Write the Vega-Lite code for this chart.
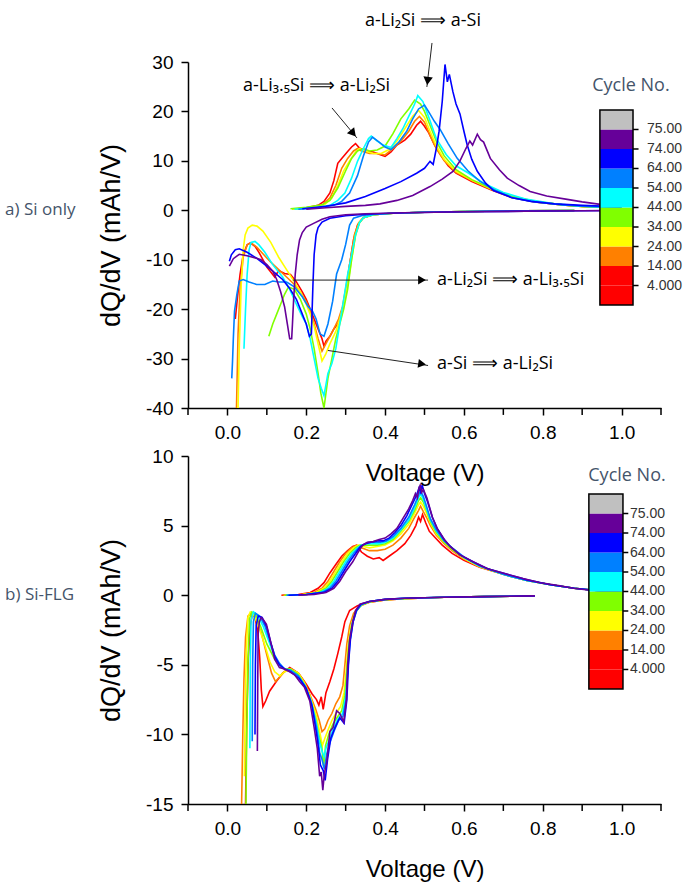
{
"$schema":"https://vega.github.io/schema/vega-lite/v6.json",
"background":"white",
"padding":{"left":5,"top":11,"right":2,"bottom":2},
"config":{"view":{"stroke":null},
 "axis":{"grid":false,"domainColor":"#000","domainWidth":1.5,"tickColor":"#000","tickWidth":1.5,"tickSize":7,"labelFont":"Liberation Sans","labelFontSize":19,"labelColor":"#000","labelPadding":8,"labelFlush":false,"labelOverlap":false,"titleFont":"Liberation Sans","titleFontWeight":"normal","titleColor":"#000"}},
"bounds":"flush",
"spacing":48,
"resolve":{"scale":{"x":"independent","y":"independent"}},
"datasets":{
"T":[{"t":-0.1},{"t":0.1},{"t":0.3},{"t":0.5},{"t":0.7},{"t":0.9},{"t":1.1}],
"L":[{"r":0,"r2":1,"c":"4","l":""},{"r":1,"r2":2,"c":"4","l":"4.000"},{"r":2,"r2":3,"c":"14","l":"14.00"},{"r":3,"r2":4,"c":"24","l":"24.00"},{"r":4,"r2":5,"c":"34","l":"34.00"},{"r":5,"r2":6,"c":"44","l":"44.00"},{"r":6,"r2":7,"c":"54","l":"54.00"},{"r":7,"r2":8,"c":"64","l":"64.00"},{"r":8,"r2":9,"c":"74","l":"74.00"},{"r":9,"r2":10,"c":"75","l":"75.00"}],
"A":[
{"c":"4","b":"d","v":0.88,"q":-0.05},{"c":"4","b":"d","v":0.75,"q":-0.12},{"c":"4","b":"d","v":0.6,"q":-0.25},{"c":"4","b":"d","v":0.5,"q":-0.4},{"c":"4","b":"d","v":0.42,"q":-0.6},{"c":"4","b":"d","v":0.37,"q":-0.9},{"c":"4","b":"d","v":0.345,"q":-1.5},{"c":"4","b":"d","v":0.33,"q":-3},{"c":"4","b":"d","v":0.32,"q":-6},{"c":"4","b":"d","v":0.31,"q":-11},{"c":"4","b":"d","v":0.3,"q":-17},{"c":"4","b":"d","v":0.29,"q":-21},{"c":"4","b":"d","v":0.28,"q":-23},{"c":"4","b":"d","v":0.27,"q":-24},{"c":"4","b":"d","v":0.26,"q":-25.5},{"c":"4","b":"d","v":0.25,"q":-26.5},{"c":"4","b":"d","v":0.245,"q":-27.5},{"c":"4","b":"d","v":0.24,"q":-26},{"c":"4","b":"d","v":0.23,"q":-24},{"c":"4","b":"d","v":0.22,"q":-22},{"c":"4","b":"d","v":0.21,"q":-20},{"c":"4","b":"d","v":0.2,"q":-18},{"c":"4","b":"d","v":0.19,"q":-16.5},{"c":"4","b":"d","v":0.175,"q":-14.5},{"c":"4","b":"d","v":0.16,"q":-13},{"c":"4","b":"d","v":0.145,"q":-12.8},{"c":"4","b":"d","v":0.13,"q":-12.2},{"c":"4","b":"d","v":0.12,"q":-13.5},{"c":"4","b":"d","v":0.11,"q":-12.5},{"c":"4","b":"d","v":0.1,"q":-11.5},{"c":"4","b":"d","v":0.09,"q":-10},{"c":"4","b":"d","v":0.08,"q":-8.5},{"c":"4","b":"d","v":0.07,"q":-7.3},{"c":"4","b":"d","v":0.058,"q":-6.6},{"c":"4","b":"d","v":0.05,"q":-7},{"c":"4","b":"d","v":0.04,"q":-9},{"c":"4","b":"d","v":0.032,"q":-13},{"c":"4","b":"d","v":0.025,"q":-18},{"c":"4","b":"d","v":0.02,"q":-22},
{"c":"4","b":"c","v":0.165,"q":0.2},{"c":"4","b":"c","v":0.2,"q":0.5},{"c":"4","b":"c","v":0.23,"q":1},{"c":"4","b":"c","v":0.245,"q":1.8},{"c":"4","b":"c","v":0.26,"q":3.5},{"c":"4","b":"c","v":0.27,"q":6},{"c":"4","b":"c","v":0.28,"q":9.5},{"c":"4","b":"c","v":0.29,"q":10.5},{"c":"4","b":"c","v":0.305,"q":11.9},{"c":"4","b":"c","v":0.315,"q":12.8},{"c":"4","b":"c","v":0.325,"q":13.5},{"c":"4","b":"c","v":0.335,"q":12.6},{"c":"4","b":"c","v":0.35,"q":12},{"c":"4","b":"c","v":0.37,"q":11.8},{"c":"4","b":"c","v":0.39,"q":11.2},{"c":"4","b":"c","v":0.4,"q":10.9},{"c":"4","b":"c","v":0.415,"q":11.8},{"c":"4","b":"c","v":0.43,"q":13.2},{"c":"4","b":"c","v":0.45,"q":14.2},{"c":"4","b":"c","v":0.465,"q":15.4},{"c":"4","b":"c","v":0.48,"q":17.2},{"c":"4","b":"c","v":0.49,"q":18},{"c":"4","b":"c","v":0.5,"q":17},{"c":"4","b":"c","v":0.51,"q":15.8},{"c":"4","b":"c","v":0.525,"q":13.3},{"c":"4","b":"c","v":0.54,"q":11.3},{"c":"4","b":"c","v":0.56,"q":9},{"c":"4","b":"c","v":0.58,"q":7.5},{"c":"4","b":"c","v":0.62,"q":5.8},{"c":"4","b":"c","v":0.67,"q":4.1},{"c":"4","b":"c","v":0.72,"q":2.6},{"c":"4","b":"c","v":0.78,"q":1.7},{"c":"4","b":"c","v":0.85,"q":1.1},{"c":"4","b":"c","v":0.9,"q":0.8},{"c":"4","b":"c","v":0.95,"q":0.6},{"c":"4","b":"c","v":1.0,"q":0.4},
{"c":"14","b":"d","v":0.88,"q":-0.05},{"c":"14","b":"d","v":0.75,"q":-0.12},{"c":"14","b":"d","v":0.6,"q":-0.25},{"c":"14","b":"d","v":0.5,"q":-0.4},{"c":"14","b":"d","v":0.42,"q":-0.6},{"c":"14","b":"d","v":0.37,"q":-0.9},{"c":"14","b":"d","v":0.345,"q":-1.5},{"c":"14","b":"d","v":0.333,"q":-2.5},{"c":"14","b":"d","v":0.322,"q":-5},{"c":"14","b":"d","v":0.312,"q":-10},{"c":"14","b":"d","v":0.302,"q":-15},{"c":"14","b":"d","v":0.292,"q":-19.5},{"c":"14","b":"d","v":0.282,"q":-22},{"c":"14","b":"d","v":0.27,"q":-24},{"c":"14","b":"d","v":0.26,"q":-25.5},{"c":"14","b":"d","v":0.25,"q":-27},{"c":"14","b":"d","v":0.24,"q":-28.5},{"c":"14","b":"d","v":0.23,"q":-26},{"c":"14","b":"d","v":0.22,"q":-23},{"c":"14","b":"d","v":0.21,"q":-20.5},{"c":"14","b":"d","v":0.2,"q":-18.5},{"c":"14","b":"d","v":0.185,"q":-16.5},{"c":"14","b":"d","v":0.17,"q":-15},{"c":"14","b":"d","v":0.15,"q":-13.5},{"c":"14","b":"d","v":0.13,"q":-12},{"c":"14","b":"d","v":0.11,"q":-10.5},{"c":"14","b":"d","v":0.09,"q":-8.8},{"c":"14","b":"d","v":0.075,"q":-7.5},{"c":"14","b":"d","v":0.06,"q":-6.6},{"c":"14","b":"d","v":0.05,"q":-7},{"c":"14","b":"d","v":0.04,"q":-9.5},{"c":"14","b":"d","v":0.032,"q":-16},{"c":"14","b":"d","v":0.027,"q":-25},{"c":"14","b":"d","v":0.023,"q":-40},
{"c":"14","b":"c","v":0.17,"q":0.2},{"c":"14","b":"c","v":0.21,"q":0.5},{"c":"14","b":"c","v":0.24,"q":1},{"c":"14","b":"c","v":0.26,"q":2.5},{"c":"14","b":"c","v":0.275,"q":5},{"c":"14","b":"c","v":0.29,"q":8.5},{"c":"14","b":"c","v":0.305,"q":10.5},{"c":"14","b":"c","v":0.32,"q":12},{"c":"14","b":"c","v":0.33,"q":12.5},{"c":"14","b":"c","v":0.34,"q":12},{"c":"14","b":"c","v":0.36,"q":11.5},{"c":"14","b":"c","v":0.38,"q":11.5},{"c":"14","b":"c","v":0.4,"q":11.2},{"c":"14","b":"c","v":0.42,"q":12.5},{"c":"14","b":"c","v":0.44,"q":14},{"c":"14","b":"c","v":0.46,"q":16},{"c":"14","b":"c","v":0.475,"q":18},{"c":"14","b":"c","v":0.487,"q":19},{"c":"14","b":"c","v":0.5,"q":17.8},{"c":"14","b":"c","v":0.515,"q":15},{"c":"14","b":"c","v":0.53,"q":12.5},{"c":"14","b":"c","v":0.55,"q":10},{"c":"14","b":"c","v":0.58,"q":7.7},{"c":"14","b":"c","v":0.62,"q":6},{"c":"14","b":"c","v":0.67,"q":4.2},{"c":"14","b":"c","v":0.72,"q":2.7},{"c":"14","b":"c","v":0.78,"q":1.7},{"c":"14","b":"c","v":0.85,"q":1.1},{"c":"14","b":"c","v":0.9,"q":0.8},{"c":"14","b":"c","v":1.0,"q":0.45},
{"c":"24","b":"d","v":0.88,"q":-0.05},{"c":"24","b":"d","v":0.75,"q":-0.12},{"c":"24","b":"d","v":0.6,"q":-0.25},{"c":"24","b":"d","v":0.5,"q":-0.4},{"c":"24","b":"d","v":0.42,"q":-0.6},{"c":"24","b":"d","v":0.37,"q":-0.9},{"c":"24","b":"d","v":0.345,"q":-1.5},{"c":"24","b":"d","v":0.335,"q":-2.5},{"c":"24","b":"d","v":0.325,"q":-5},{"c":"24","b":"d","v":0.315,"q":-10},{"c":"24","b":"d","v":0.305,"q":-15},{"c":"24","b":"d","v":0.295,"q":-19},{"c":"24","b":"d","v":0.285,"q":-22},{"c":"24","b":"d","v":0.275,"q":-24.5},{"c":"24","b":"d","v":0.26,"q":-27},{"c":"24","b":"d","v":0.25,"q":-29},{"c":"24","b":"d","v":0.24,"q":-30.5},{"c":"24","b":"d","v":0.23,"q":-27},{"c":"24","b":"d","v":0.22,"q":-23.5},{"c":"24","b":"d","v":0.21,"q":-21},{"c":"24","b":"d","v":0.2,"q":-19},{"c":"24","b":"d","v":0.185,"q":-16.5},{"c":"24","b":"d","v":0.17,"q":-14.5},{"c":"24","b":"d","v":0.15,"q":-12},{"c":"24","b":"d","v":0.13,"q":-9.5},{"c":"24","b":"d","v":0.11,"q":-6.5},{"c":"24","b":"d","v":0.09,"q":-4.2},{"c":"24","b":"d","v":0.075,"q":-3.2},{"c":"24","b":"d","v":0.063,"q":-3},{"c":"24","b":"d","v":0.052,"q":-3.6},{"c":"24","b":"d","v":0.045,"q":-5},{"c":"24","b":"d","v":0.04,"q":-8},{"c":"24","b":"d","v":0.035,"q":-15},{"c":"24","b":"d","v":0.03,"q":-28},{"c":"24","b":"d","v":0.027,"q":-40},
{"c":"24","b":"c","v":0.165,"q":0.2},{"c":"24","b":"c","v":0.21,"q":0.5},{"c":"24","b":"c","v":0.245,"q":1},{"c":"24","b":"c","v":0.265,"q":2.5},{"c":"24","b":"c","v":0.28,"q":5},{"c":"24","b":"c","v":0.295,"q":8},{"c":"24","b":"c","v":0.31,"q":10},{"c":"24","b":"c","v":0.325,"q":11.8},{"c":"24","b":"c","v":0.335,"q":12.5},{"c":"24","b":"c","v":0.35,"q":12},{"c":"24","b":"c","v":0.37,"q":11.5},{"c":"24","b":"c","v":0.39,"q":11.5},{"c":"24","b":"c","v":0.41,"q":12.3},{"c":"24","b":"c","v":0.43,"q":14},{"c":"24","b":"c","v":0.45,"q":16.5},{"c":"24","b":"c","v":0.47,"q":19},{"c":"24","b":"c","v":0.485,"q":20.2},{"c":"24","b":"c","v":0.5,"q":18.8},{"c":"24","b":"c","v":0.515,"q":15.8},{"c":"24","b":"c","v":0.53,"q":13},{"c":"24","b":"c","v":0.55,"q":10.3},{"c":"24","b":"c","v":0.58,"q":7.9},{"c":"24","b":"c","v":0.62,"q":6.1},{"c":"24","b":"c","v":0.67,"q":4.3},{"c":"24","b":"c","v":0.72,"q":2.8},{"c":"24","b":"c","v":0.78,"q":1.8},{"c":"24","b":"c","v":0.85,"q":1.1},{"c":"24","b":"c","v":0.9,"q":0.8},{"c":"24","b":"c","v":1.0,"q":0.45},
{"c":"34","b":"d","v":0.88,"q":-0.05},{"c":"34","b":"d","v":0.75,"q":-0.12},{"c":"34","b":"d","v":0.6,"q":-0.25},{"c":"34","b":"d","v":0.5,"q":-0.4},{"c":"34","b":"d","v":0.42,"q":-0.6},{"c":"34","b":"d","v":0.37,"q":-0.9},{"c":"34","b":"d","v":0.345,"q":-1.5},{"c":"34","b":"d","v":0.335,"q":-2.5},{"c":"34","b":"d","v":0.325,"q":-5},{"c":"34","b":"d","v":0.315,"q":-10},{"c":"34","b":"d","v":0.305,"q":-16},{"c":"34","b":"d","v":0.295,"q":-20},{"c":"34","b":"d","v":0.285,"q":-23},{"c":"34","b":"d","v":0.275,"q":-26},{"c":"34","b":"d","v":0.265,"q":-30},{"c":"34","b":"d","v":0.255,"q":-34},{"c":"34","b":"d","v":0.245,"q":-40},{"c":"34","b":"d","v":0.237,"q":-37},{"c":"34","b":"d","v":0.23,"q":-33},{"c":"34","b":"d","v":0.22,"q":-28},{"c":"34","b":"d","v":0.21,"q":-24},{"c":"34","b":"d","v":0.2,"q":-21},{"c":"34","b":"d","v":0.185,"q":-18},{"c":"34","b":"d","v":0.17,"q":-16},{"c":"34","b":"d","v":0.155,"q":-15.5},{"c":"34","b":"d","v":0.145,"q":-17},{"c":"34","b":"d","v":0.135,"q":-19},{"c":"34","b":"d","v":0.125,"q":-21},{"c":"34","b":"d","v":0.115,"q":-23},{"c":"34","b":"d","v":0.105,"q":-25.5},
{"c":"34","b":"c","v":0.16,"q":0.3},{"c":"34","b":"c","v":0.2,"q":0.6},{"c":"34","b":"c","v":0.24,"q":1.1},{"c":"34","b":"c","v":0.26,"q":2},{"c":"34","b":"c","v":0.28,"q":4.5},{"c":"34","b":"c","v":0.3,"q":8},{"c":"34","b":"c","v":0.315,"q":10.5},{"c":"34","b":"c","v":0.33,"q":12},{"c":"34","b":"c","v":0.345,"q":12.5},{"c":"34","b":"c","v":0.36,"q":12},{"c":"34","b":"c","v":0.38,"q":12.2},{"c":"34","b":"c","v":0.4,"q":13},{"c":"34","b":"c","v":0.42,"q":15.5},{"c":"34","b":"c","v":0.44,"q":18.5},{"c":"34","b":"c","v":0.46,"q":20.5},{"c":"34","b":"c","v":0.475,"q":22.3},{"c":"34","b":"c","v":0.49,"q":21.5},{"c":"34","b":"c","v":0.5,"q":20},{"c":"34","b":"c","v":0.515,"q":17},{"c":"34","b":"c","v":0.53,"q":14},{"c":"34","b":"c","v":0.55,"q":11},{"c":"34","b":"c","v":0.58,"q":8.2},{"c":"34","b":"c","v":0.62,"q":6.2},{"c":"34","b":"c","v":0.67,"q":4.4},{"c":"34","b":"c","v":0.72,"q":2.9},{"c":"34","b":"c","v":0.78,"q":1.8},{"c":"34","b":"c","v":0.85,"q":1.1},{"c":"34","b":"c","v":0.9,"q":0.8},{"c":"34","b":"c","v":1.0,"q":0.45},
{"c":"44","b":"d","v":0.88,"q":-0.05},{"c":"44","b":"d","v":0.75,"q":-0.12},{"c":"44","b":"d","v":0.6,"q":-0.25},{"c":"44","b":"d","v":0.5,"q":-0.4},{"c":"44","b":"d","v":0.42,"q":-0.6},{"c":"44","b":"d","v":0.37,"q":-0.9},{"c":"44","b":"d","v":0.345,"q":-1.5},{"c":"44","b":"d","v":0.335,"q":-2.5},{"c":"44","b":"d","v":0.325,"q":-5},{"c":"44","b":"d","v":0.315,"q":-9},{"c":"44","b":"d","v":0.305,"q":-13},{"c":"44","b":"d","v":0.295,"q":-18},{"c":"44","b":"d","v":0.285,"q":-23},{"c":"44","b":"d","v":0.275,"q":-28},{"c":"44","b":"d","v":0.265,"q":-31},{"c":"44","b":"d","v":0.255,"q":-33},{"c":"44","b":"d","v":0.245,"q":-37.5},{"c":"44","b":"d","v":0.238,"q":-36},{"c":"44","b":"d","v":0.23,"q":-34},{"c":"44","b":"d","v":0.22,"q":-30},{"c":"44","b":"d","v":0.21,"q":-26},{"c":"44","b":"d","v":0.2,"q":-23},{"c":"44","b":"d","v":0.19,"q":-21.5},{"c":"44","b":"d","v":0.175,"q":-19},{"c":"44","b":"d","v":0.158,"q":-16},{"c":"44","b":"d","v":0.14,"q":-13.5},{"c":"44","b":"d","v":0.115,"q":-11},{"c":"44","b":"d","v":0.095,"q":-8.5},{"c":"44","b":"d","v":0.08,"q":-7},{"c":"44","b":"d","v":0.07,"q":-6.3},{"c":"44","b":"d","v":0.06,"q":-6.5},{"c":"44","b":"d","v":0.055,"q":-8},{"c":"44","b":"d","v":0.05,"q":-13},{"c":"44","b":"d","v":0.046,"q":-20},{"c":"44","b":"d","v":0.042,"q":-28},
{"c":"44","b":"c","v":0.17,"q":0.2},{"c":"44","b":"c","v":0.22,"q":0.5},{"c":"44","b":"c","v":0.26,"q":1},{"c":"44","b":"c","v":0.28,"q":2},{"c":"44","b":"c","v":0.298,"q":3.5},{"c":"44","b":"c","v":0.315,"q":6.5},{"c":"44","b":"c","v":0.33,"q":9.9},{"c":"44","b":"c","v":0.345,"q":12.5},{"c":"44","b":"c","v":0.358,"q":14.5},{"c":"44","b":"c","v":0.365,"q":15},{"c":"44","b":"c","v":0.38,"q":14},{"c":"44","b":"c","v":0.395,"q":13.2},{"c":"44","b":"c","v":0.415,"q":12.7},{"c":"44","b":"c","v":0.43,"q":14.5},{"c":"44","b":"c","v":0.445,"q":16.5},{"c":"44","b":"c","v":0.46,"q":19},{"c":"44","b":"c","v":0.475,"q":21.5},{"c":"44","b":"c","v":0.483,"q":23.2},{"c":"44","b":"c","v":0.496,"q":22},{"c":"44","b":"c","v":0.51,"q":19},{"c":"44","b":"c","v":0.53,"q":14.5},{"c":"44","b":"c","v":0.555,"q":11.3},{"c":"44","b":"c","v":0.58,"q":9},{"c":"44","b":"c","v":0.61,"q":7.6},{"c":"44","b":"c","v":0.65,"q":5.5},{"c":"44","b":"c","v":0.7,"q":3.6},{"c":"44","b":"c","v":0.76,"q":2.2},{"c":"44","b":"c","v":0.83,"q":1.3},{"c":"44","b":"c","v":0.9,"q":0.85},{"c":"44","b":"c","v":1.0,"q":0.45},
{"c":"54","b":"d","v":0.88,"q":-0.05},{"c":"54","b":"d","v":0.75,"q":-0.12},{"c":"54","b":"d","v":0.6,"q":-0.25},{"c":"54","b":"d","v":0.5,"q":-0.4},{"c":"54","b":"d","v":0.42,"q":-0.6},{"c":"54","b":"d","v":0.37,"q":-0.8},{"c":"54","b":"d","v":0.34,"q":-1.1},{"c":"54","b":"d","v":0.32,"q":-1.6},{"c":"54","b":"d","v":0.31,"q":-3},{"c":"54","b":"d","v":0.3,"q":-6.9},{"c":"54","b":"d","v":0.29,"q":-10},{"c":"54","b":"d","v":0.277,"q":-12.9},{"c":"54","b":"d","v":0.267,"q":-18.4},{"c":"54","b":"d","v":0.255,"q":-23},{"c":"54","b":"d","v":0.245,"q":-25.5},{"c":"54","b":"d","v":0.235,"q":-25},{"c":"54","b":"d","v":0.225,"q":-22},{"c":"54","b":"d","v":0.216,"q":-20.4},{"c":"54","b":"d","v":0.205,"q":-19.5},{"c":"54","b":"d","v":0.19,"q":-17.5},{"c":"54","b":"d","v":0.17,"q":-15.5},{"c":"54","b":"d","v":0.15,"q":-14.5},{"c":"54","b":"d","v":0.13,"q":-14.5},{"c":"54","b":"d","v":0.115,"q":-14.3},{"c":"54","b":"d","v":0.095,"q":-15},{"c":"54","b":"d","v":0.074,"q":-15},{"c":"54","b":"d","v":0.055,"q":-14.5},{"c":"54","b":"d","v":0.04,"q":-14},{"c":"54","b":"d","v":0.03,"q":-14.3},{"c":"54","b":"d","v":0.024,"q":-17},{"c":"54","b":"d","v":0.018,"q":-20.4},{"c":"54","b":"d","v":0.015,"q":-26},{"c":"54","b":"d","v":0.013,"q":-30.5},{"c":"54","b":"d","v":0.011,"q":-34},
{"c":"54","b":"c","v":0.18,"q":0.2},{"c":"54","b":"c","v":0.23,"q":0.5},{"c":"54","b":"c","v":0.27,"q":1},{"c":"54","b":"c","v":0.29,"q":1.8},{"c":"54","b":"c","v":0.31,"q":3.5},{"c":"54","b":"c","v":0.33,"q":7},{"c":"54","b":"c","v":0.345,"q":11},{"c":"54","b":"c","v":0.358,"q":13.8},{"c":"54","b":"c","v":0.368,"q":14.8},{"c":"54","b":"c","v":0.385,"q":13.8},{"c":"54","b":"c","v":0.4,"q":12.8},{"c":"54","b":"c","v":0.415,"q":12.3},{"c":"54","b":"c","v":0.435,"q":13.8},{"c":"54","b":"c","v":0.455,"q":16},{"c":"54","b":"c","v":0.47,"q":18.5},{"c":"54","b":"c","v":0.485,"q":20.5},{"c":"54","b":"c","v":0.5,"q":21.3},{"c":"54","b":"c","v":0.51,"q":20},{"c":"54","b":"c","v":0.525,"q":18},{"c":"54","b":"c","v":0.54,"q":16.3},{"c":"54","b":"c","v":0.56,"q":13.5},{"c":"54","b":"c","v":0.583,"q":10.5},{"c":"54","b":"c","v":0.61,"q":8},{"c":"54","b":"c","v":0.64,"q":5.9},{"c":"54","b":"c","v":0.68,"q":4},{"c":"54","b":"c","v":0.725,"q":2.5},{"c":"54","b":"c","v":0.78,"q":1.7},{"c":"54","b":"c","v":0.85,"q":1.1},{"c":"54","b":"c","v":0.9,"q":0.85},{"c":"54","b":"c","v":1.0,"q":0.5},
{"c":"64","b":"d","v":1.0,"q":-0.05},{"c":"64","b":"d","v":0.8,"q":-0.15},{"c":"64","b":"d","v":0.6,"q":-0.3},{"c":"64","b":"d","v":0.45,"q":-0.5},{"c":"64","b":"d","v":0.35,"q":-0.8},{"c":"64","b":"d","v":0.3,"q":-1.1},{"c":"64","b":"d","v":0.26,"q":-1.6},{"c":"64","b":"d","v":0.24,"q":-2.4},{"c":"64","b":"d","v":0.23,"q":-3.5},{"c":"64","b":"d","v":0.225,"q":-5},{"c":"64","b":"d","v":0.22,"q":-9},{"c":"64","b":"d","v":0.217,"q":-15},{"c":"64","b":"d","v":0.215,"q":-20},{"c":"64","b":"d","v":0.213,"q":-25},{"c":"64","b":"d","v":0.208,"q":-25.5},{"c":"64","b":"d","v":0.2,"q":-23},{"c":"64","b":"d","v":0.19,"q":-21},{"c":"64","b":"d","v":0.175,"q":-18},{"c":"64","b":"d","v":0.158,"q":-15.8},{"c":"64","b":"d","v":0.14,"q":-14},{"c":"64","b":"d","v":0.115,"q":-12.3},{"c":"64","b":"d","v":0.095,"q":-11},{"c":"64","b":"d","v":0.074,"q":-9.7},{"c":"64","b":"d","v":0.05,"q":-8.5},{"c":"64","b":"d","v":0.03,"q":-7.8},{"c":"64","b":"d","v":0.02,"q":-8},{"c":"64","b":"d","v":0.01,"q":-9},{"c":"64","b":"d","v":0.005,"q":-10.3},
{"c":"64","b":"c","v":0.19,"q":0.3},{"c":"64","b":"c","v":0.25,"q":0.8},{"c":"64","b":"c","v":0.3,"q":1.5},{"c":"64","b":"c","v":0.35,"q":2.8},{"c":"64","b":"c","v":0.4,"q":4.4},{"c":"64","b":"c","v":0.44,"q":5.8},{"c":"64","b":"c","v":0.48,"q":7.5},{"c":"64","b":"c","v":0.5,"q":8.5},{"c":"64","b":"c","v":0.514,"q":9.9},{"c":"64","b":"c","v":0.522,"q":9.3},{"c":"64","b":"c","v":0.53,"q":12.5},{"c":"64","b":"c","v":0.537,"q":16},{"c":"64","b":"c","v":0.545,"q":22},{"c":"64","b":"c","v":0.552,"q":29.5},{"c":"64","b":"c","v":0.558,"q":26},{"c":"64","b":"c","v":0.563,"q":27.5},{"c":"64","b":"c","v":0.572,"q":24},{"c":"64","b":"c","v":0.58,"q":21.5},{"c":"64","b":"c","v":0.59,"q":19.5},{"c":"64","b":"c","v":0.6,"q":16},{"c":"64","b":"c","v":0.608,"q":13.3},{"c":"64","b":"c","v":0.62,"q":10.3},{"c":"64","b":"c","v":0.634,"q":7.9},{"c":"64","b":"c","v":0.655,"q":5.5},{"c":"64","b":"c","v":0.675,"q":4},{"c":"64","b":"c","v":0.72,"q":2.6},{"c":"64","b":"c","v":0.77,"q":1.8},{"c":"64","b":"c","v":0.83,"q":1.3},{"c":"64","b":"c","v":0.9,"q":1},{"c":"64","b":"c","v":1.0,"q":0.7},
{"c":"74","b":"d","v":1.0,"q":-0.05},{"c":"74","b":"d","v":0.8,"q":-0.15},{"c":"74","b":"d","v":0.6,"q":-0.3},{"c":"74","b":"d","v":0.45,"q":-0.5},{"c":"74","b":"d","v":0.35,"q":-0.7},{"c":"74","b":"d","v":0.3,"q":-0.9},{"c":"74","b":"d","v":0.26,"q":-1.3},{"c":"74","b":"d","v":0.24,"q":-1.8},{"c":"74","b":"d","v":0.22,"q":-2.6},{"c":"74","b":"d","v":0.2,"q":-3.4},{"c":"74","b":"d","v":0.19,"q":-4.5},{"c":"74","b":"d","v":0.183,"q":-6},{"c":"74","b":"d","v":0.177,"q":-9},{"c":"74","b":"d","v":0.172,"q":-13},{"c":"74","b":"d","v":0.168,"q":-18},{"c":"74","b":"d","v":0.165,"q":-23},{"c":"74","b":"d","v":0.163,"q":-26},{"c":"74","b":"d","v":0.158,"q":-26},{"c":"74","b":"d","v":0.152,"q":-23},{"c":"74","b":"d","v":0.145,"q":-19.5},{"c":"74","b":"d","v":0.135,"q":-16.5},{"c":"74","b":"d","v":0.125,"q":-14},{"c":"74","b":"d","v":0.115,"q":-12.3},{"c":"74","b":"d","v":0.1,"q":-11},{"c":"74","b":"d","v":0.085,"q":-10},{"c":"74","b":"d","v":0.074,"q":-9.7},{"c":"74","b":"d","v":0.05,"q":-9.2},{"c":"74","b":"d","v":0.03,"q":-8.9},{"c":"74","b":"d","v":0.015,"q":-9.8},{"c":"74","b":"d","v":0.005,"q":-11.3},
{"c":"74","b":"c","v":0.2,"q":0.2},{"c":"74","b":"c","v":0.25,"q":0.5},{"c":"74","b":"c","v":0.3,"q":0.8},{"c":"74","b":"c","v":0.35,"q":1},{"c":"74","b":"c","v":0.387,"q":1.3},{"c":"74","b":"c","v":0.43,"q":2},{"c":"74","b":"c","v":0.47,"q":3},{"c":"74","b":"c","v":0.514,"q":4.8},{"c":"74","b":"c","v":0.545,"q":6.3},{"c":"74","b":"c","v":0.573,"q":7.9},{"c":"74","b":"c","v":0.59,"q":10},{"c":"74","b":"c","v":0.605,"q":12.5},{"c":"74","b":"c","v":0.615,"q":14},{"c":"74","b":"c","v":0.622,"q":13.2},{"c":"74","b":"c","v":0.634,"q":15.4},{"c":"74","b":"c","v":0.642,"q":14.3},{"c":"74","b":"c","v":0.65,"q":13.8},{"c":"74","b":"c","v":0.667,"q":10.5},{"c":"74","b":"c","v":0.69,"q":8.2},{"c":"74","b":"c","v":0.71,"q":6.5},{"c":"74","b":"c","v":0.74,"q":5},{"c":"74","b":"c","v":0.768,"q":3.8},{"c":"74","b":"c","v":0.81,"q":2.9},{"c":"74","b":"c","v":0.862,"q":2.2},{"c":"74","b":"c","v":0.9,"q":1.7},{"c":"74","b":"c","v":0.946,"q":1.2},{"c":"74","b":"c","v":1.0,"q":0.9}
],
"B":[
{"c":"4","b":"d","v":0.78,"q":-0.05},{"c":"4","b":"d","v":0.65,"q":-0.1},{"c":"4","b":"d","v":0.55,"q":-0.15},{"c":"4","b":"d","v":0.45,"q":-0.25},{"c":"4","b":"d","v":0.4,"q":-0.35},{"c":"4","b":"d","v":0.36,"q":-0.5},{"c":"4","b":"d","v":0.33,"q":-0.75},{"c":"4","b":"d","v":0.31,"q":-1.1},{"c":"4","b":"d","v":0.298,"q":-1.9},{"c":"4","b":"d","v":0.29,"q":-3},{"c":"4","b":"d","v":0.28,"q":-4.2},{"c":"4","b":"d","v":0.27,"q":-5.3},{"c":"4","b":"d","v":0.26,"q":-6.2},{"c":"4","b":"d","v":0.25,"q":-7},{"c":"4","b":"d","v":0.243,"q":-8.2},{"c":"4","b":"d","v":0.238,"q":-7.3},{"c":"4","b":"d","v":0.232,"q":-7.9},{"c":"4","b":"d","v":0.226,"q":-7.5},{"c":"4","b":"d","v":0.215,"q":-7.1},{"c":"4","b":"d","v":0.2,"q":-6.4},{"c":"4","b":"d","v":0.18,"q":-5.6},{"c":"4","b":"d","v":0.158,"q":-5.2},{"c":"4","b":"d","v":0.14,"q":-5.6},{"c":"4","b":"d","v":0.124,"q":-6.2},{"c":"4","b":"d","v":0.107,"q":-6.9},{"c":"4","b":"d","v":0.097,"q":-7.6},{"c":"4","b":"d","v":0.09,"q":-8},{"c":"4","b":"d","v":0.086,"q":-6.8},{"c":"4","b":"d","v":0.082,"q":-4.5},{"c":"4","b":"d","v":0.077,"q":-2.6},{"c":"4","b":"d","v":0.07,"q":-1.6},{"c":"4","b":"d","v":0.063,"q":-1.4},{"c":"4","b":"d","v":0.058,"q":-2.2},{"c":"4","b":"d","v":0.053,"q":-4.5},{"c":"4","b":"d","v":0.049,"q":-9},{"c":"4","b":"d","v":0.046,"q":-15},
{"c":"4","b":"c","v":0.137,"q":0},{"c":"4","b":"c","v":0.18,"q":0.05},{"c":"4","b":"c","v":0.21,"q":0.2},{"c":"4","b":"c","v":0.23,"q":0.5},{"c":"4","b":"c","v":0.245,"q":0.9},{"c":"4","b":"c","v":0.26,"q":1.6},{"c":"4","b":"c","v":0.275,"q":2.2},{"c":"4","b":"c","v":0.29,"q":2.8},{"c":"4","b":"c","v":0.305,"q":3.2},{"c":"4","b":"c","v":0.318,"q":3.5},{"c":"4","b":"c","v":0.328,"q":3.6},{"c":"4","b":"c","v":0.34,"q":3.1},{"c":"4","b":"c","v":0.355,"q":2.8},{"c":"4","b":"c","v":0.37,"q":2.6},{"c":"4","b":"c","v":0.385,"q":2.7},{"c":"4","b":"c","v":0.395,"q":2.5},{"c":"4","b":"c","v":0.41,"q":2.8},{"c":"4","b":"c","v":0.43,"q":3.2},{"c":"4","b":"c","v":0.45,"q":3.7},{"c":"4","b":"c","v":0.465,"q":4.3},{"c":"4","b":"c","v":0.478,"q":5},{"c":"4","b":"c","v":0.485,"q":5.6},{"c":"4","b":"c","v":0.49,"q":5.3},{"c":"4","b":"c","v":0.495,"q":5.8},{"c":"4","b":"c","v":0.503,"q":5.2},{"c":"4","b":"c","v":0.512,"q":4.6},{"c":"4","b":"c","v":0.525,"q":4.2},{"c":"4","b":"c","v":0.545,"q":3.6},{"c":"4","b":"c","v":0.57,"q":3},{"c":"4","b":"c","v":0.6,"q":2.5},{"c":"4","b":"c","v":0.64,"q":2},{"c":"4","b":"c","v":0.7,"q":1.5},{"c":"4","b":"c","v":0.76,"q":1.05},{"c":"4","b":"c","v":0.82,"q":0.75},{"c":"4","b":"c","v":0.88,"q":0.5},{"c":"4","b":"c","v":0.95,"q":0.3},{"c":"4","b":"c","v":1.0,"q":0.2},
{"c":"14","b":"d","v":0.78,"q":-0.05},{"c":"14","b":"d","v":0.65,"q":-0.1},{"c":"14","b":"d","v":0.55,"q":-0.15},{"c":"14","b":"d","v":0.45,"q":-0.25},{"c":"14","b":"d","v":0.4,"q":-0.35},{"c":"14","b":"d","v":0.36,"q":-0.5},{"c":"14","b":"d","v":0.335,"q":-0.8},{"c":"14","b":"d","v":0.32,"q":-1.3},{"c":"14","b":"d","v":0.31,"q":-2.2},{"c":"14","b":"d","v":0.303,"q":-3.5},{"c":"14","b":"d","v":0.298,"q":-5},{"c":"14","b":"d","v":0.293,"q":-6.5},{"c":"14","b":"d","v":0.285,"q":-7.3},{"c":"14","b":"d","v":0.275,"q":-7.8},{"c":"14","b":"d","v":0.265,"q":-8.5},{"c":"14","b":"d","v":0.255,"q":-9},{"c":"14","b":"d","v":0.247,"q":-9.6},{"c":"14","b":"d","v":0.24,"q":-9.8},{"c":"14","b":"d","v":0.233,"q":-9},{"c":"14","b":"d","v":0.224,"q":-8.2},{"c":"14","b":"d","v":0.21,"q":-7.2},{"c":"14","b":"d","v":0.195,"q":-6.2},{"c":"14","b":"d","v":0.18,"q":-5.6},{"c":"14","b":"d","v":0.16,"q":-5.3},{"c":"14","b":"d","v":0.145,"q":-5.5},{"c":"14","b":"d","v":0.132,"q":-5.9},{"c":"14","b":"d","v":0.122,"q":-6.2},{"c":"14","b":"d","v":0.112,"q":-5.6},{"c":"14","b":"d","v":0.1,"q":-4.3},{"c":"14","b":"d","v":0.085,"q":-2.6},{"c":"14","b":"d","v":0.07,"q":-1.6},{"c":"14","b":"d","v":0.06,"q":-1.3},{"c":"14","b":"d","v":0.052,"q":-1.5},{"c":"14","b":"d","v":0.046,"q":-3},{"c":"14","b":"d","v":0.042,"q":-6},{"c":"14","b":"d","v":0.039,"q":-10},{"c":"14","b":"d","v":0.036,"q":-15},
{"c":"14","b":"c","v":0.14,"q":0},{"c":"14","b":"c","v":0.19,"q":0.05},{"c":"14","b":"c","v":0.22,"q":0.2},{"c":"14","b":"c","v":0.24,"q":0.5},{"c":"14","b":"c","v":0.255,"q":1},{"c":"14","b":"c","v":0.27,"q":1.7},{"c":"14","b":"c","v":0.285,"q":2.4},{"c":"14","b":"c","v":0.3,"q":3},{"c":"14","b":"c","v":0.315,"q":3.4},{"c":"14","b":"c","v":0.328,"q":3.6},{"c":"14","b":"c","v":0.34,"q":3.4},{"c":"14","b":"c","v":0.36,"q":3.2},{"c":"14","b":"c","v":0.38,"q":3.2},{"c":"14","b":"c","v":0.4,"q":3.3},{"c":"14","b":"c","v":0.42,"q":3.6},{"c":"14","b":"c","v":0.44,"q":4.1},{"c":"14","b":"c","v":0.46,"q":4.8},{"c":"14","b":"c","v":0.475,"q":5.6},{"c":"14","b":"c","v":0.485,"q":6.1},{"c":"14","b":"c","v":0.49,"q":6.4},{"c":"14","b":"c","v":0.497,"q":6},{"c":"14","b":"c","v":0.505,"q":5.6},{"c":"14","b":"c","v":0.515,"q":5},{"c":"14","b":"c","v":0.53,"q":4.3},{"c":"14","b":"c","v":0.55,"q":3.7},{"c":"14","b":"c","v":0.57,"q":3.2},{"c":"14","b":"c","v":0.6,"q":2.6},{"c":"14","b":"c","v":0.64,"q":2.05},{"c":"14","b":"c","v":0.7,"q":1.5},{"c":"14","b":"c","v":0.76,"q":1.05},{"c":"14","b":"c","v":0.82,"q":0.75},{"c":"14","b":"c","v":0.88,"q":0.5},{"c":"14","b":"c","v":0.95,"q":0.3},{"c":"14","b":"c","v":1.0,"q":0.2},
{"c":"24","b":"d","v":0.78,"q":-0.05},{"c":"24","b":"d","v":0.65,"q":-0.1},{"c":"24","b":"d","v":0.55,"q":-0.15},{"c":"24","b":"d","v":0.45,"q":-0.25},{"c":"24","b":"d","v":0.4,"q":-0.33},{"c":"24","b":"d","v":0.36,"q":-0.48},{"c":"24","b":"d","v":0.338,"q":-0.75},{"c":"24","b":"d","v":0.323,"q":-1.3},{"c":"24","b":"d","v":0.313,"q":-2.3},{"c":"24","b":"d","v":0.306,"q":-3.7},{"c":"24","b":"d","v":0.301,"q":-5.5},{"c":"24","b":"d","v":0.296,"q":-7},{"c":"24","b":"d","v":0.287,"q":-8},{"c":"24","b":"d","v":0.275,"q":-8.5},{"c":"24","b":"d","v":0.265,"q":-9},{"c":"24","b":"d","v":0.255,"q":-9.7},{"c":"24","b":"d","v":0.247,"q":-10.3},{"c":"24","b":"d","v":0.241,"q":-10.8},{"c":"24","b":"d","v":0.234,"q":-9.8},{"c":"24","b":"d","v":0.225,"q":-8.6},{"c":"24","b":"d","v":0.21,"q":-7.3},{"c":"24","b":"d","v":0.195,"q":-6.3},{"c":"24","b":"d","v":0.18,"q":-5.6},{"c":"24","b":"d","v":0.16,"q":-5.3},{"c":"24","b":"d","v":0.145,"q":-5.5},{"c":"24","b":"d","v":0.133,"q":-5.8},{"c":"24","b":"d","v":0.12,"q":-5.5},{"c":"24","b":"d","v":0.108,"q":-4.8},{"c":"24","b":"d","v":0.095,"q":-3.6},{"c":"24","b":"d","v":0.08,"q":-2.3},{"c":"24","b":"d","v":0.067,"q":-1.4},{"c":"24","b":"d","v":0.058,"q":-1.2},{"c":"24","b":"d","v":0.052,"q":-1.6},{"c":"24","b":"d","v":0.048,"q":-4},{"c":"24","b":"d","v":0.045,"q":-8},{"c":"24","b":"d","v":0.043,"q":-13},
{"c":"24","b":"c","v":0.145,"q":0},{"c":"24","b":"c","v":0.19,"q":0.05},{"c":"24","b":"c","v":0.225,"q":0.2},{"c":"24","b":"c","v":0.245,"q":0.5},{"c":"24","b":"c","v":0.26,"q":1},{"c":"24","b":"c","v":0.275,"q":1.7},{"c":"24","b":"c","v":0.29,"q":2.4},{"c":"24","b":"c","v":0.305,"q":3},{"c":"24","b":"c","v":0.32,"q":3.4},{"c":"24","b":"c","v":0.332,"q":3.6},{"c":"24","b":"c","v":0.345,"q":3.5},{"c":"24","b":"c","v":0.36,"q":3.4},{"c":"24","b":"c","v":0.38,"q":3.5},{"c":"24","b":"c","v":0.4,"q":3.6},{"c":"24","b":"c","v":0.42,"q":3.9},{"c":"24","b":"c","v":0.44,"q":4.4},{"c":"24","b":"c","v":0.46,"q":5.1},{"c":"24","b":"c","v":0.475,"q":5.9},{"c":"24","b":"c","v":0.485,"q":6.5},{"c":"24","b":"c","v":0.49,"q":6.7},{"c":"24","b":"c","v":0.497,"q":6.4},{"c":"24","b":"c","v":0.505,"q":5.9},{"c":"24","b":"c","v":0.515,"q":5.2},{"c":"24","b":"c","v":0.53,"q":4.4},{"c":"24","b":"c","v":0.55,"q":3.8},{"c":"24","b":"c","v":0.57,"q":3.3},{"c":"24","b":"c","v":0.6,"q":2.65},{"c":"24","b":"c","v":0.64,"q":2.05},{"c":"24","b":"c","v":0.7,"q":1.5},{"c":"24","b":"c","v":0.76,"q":1.05},{"c":"24","b":"c","v":0.82,"q":0.75},{"c":"24","b":"c","v":0.88,"q":0.5},{"c":"24","b":"c","v":0.95,"q":0.3},{"c":"24","b":"c","v":1.0,"q":0.2},
{"c":"34","b":"d","v":0.78,"q":-0.05},{"c":"34","b":"d","v":0.65,"q":-0.1},{"c":"34","b":"d","v":0.55,"q":-0.15},{"c":"34","b":"d","v":0.45,"q":-0.24},{"c":"34","b":"d","v":0.4,"q":-0.32},{"c":"34","b":"d","v":0.36,"q":-0.47},{"c":"34","b":"d","v":0.34,"q":-0.7},{"c":"34","b":"d","v":0.325,"q":-1.2},{"c":"34","b":"d","v":0.315,"q":-2.2},{"c":"34","b":"d","v":0.308,"q":-3.6},{"c":"34","b":"d","v":0.303,"q":-5.5},{"c":"34","b":"d","v":0.298,"q":-7.2},{"c":"34","b":"d","v":0.29,"q":-8.3},{"c":"34","b":"d","v":0.278,"q":-8.8},{"c":"34","b":"d","v":0.267,"q":-9.3},{"c":"34","b":"d","v":0.257,"q":-10},{"c":"34","b":"d","v":0.249,"q":-10.8},{"c":"34","b":"d","v":0.244,"q":-12.3},{"c":"34","b":"d","v":0.24,"q":-11},{"c":"34","b":"d","v":0.233,"q":-10.2},{"c":"34","b":"d","v":0.224,"q":-8.9},{"c":"34","b":"d","v":0.21,"q":-7.4},{"c":"34","b":"d","v":0.195,"q":-6.4},{"c":"34","b":"d","v":0.18,"q":-5.7},{"c":"34","b":"d","v":0.16,"q":-5.3},{"c":"34","b":"d","v":0.145,"q":-5.3},{"c":"34","b":"d","v":0.13,"q":-5},{"c":"34","b":"d","v":0.12,"q":-4.6},{"c":"34","b":"d","v":0.1,"q":-3.5},{"c":"34","b":"d","v":0.085,"q":-2.3},{"c":"34","b":"d","v":0.072,"q":-1.4},{"c":"34","b":"d","v":0.062,"q":-1.2},{"c":"34","b":"d","v":0.056,"q":-1.7},{"c":"34","b":"d","v":0.052,"q":-5},{"c":"34","b":"d","v":0.049,"q":-10},{"c":"34","b":"d","v":0.047,"q":-15},
{"c":"34","b":"c","v":0.145,"q":0},{"c":"34","b":"c","v":0.195,"q":0.05},{"c":"34","b":"c","v":0.23,"q":0.2},{"c":"34","b":"c","v":0.25,"q":0.5},{"c":"34","b":"c","v":0.265,"q":1},{"c":"34","b":"c","v":0.28,"q":1.7},{"c":"34","b":"c","v":0.295,"q":2.4},{"c":"34","b":"c","v":0.31,"q":3},{"c":"34","b":"c","v":0.325,"q":3.4},{"c":"34","b":"c","v":0.337,"q":3.6},{"c":"34","b":"c","v":0.35,"q":3.6},{"c":"34","b":"c","v":0.365,"q":3.6},{"c":"34","b":"c","v":0.38,"q":3.6},{"c":"34","b":"c","v":0.4,"q":3.7},{"c":"34","b":"c","v":0.42,"q":4},{"c":"34","b":"c","v":0.44,"q":4.6},{"c":"34","b":"c","v":0.46,"q":5.3},{"c":"34","b":"c","v":0.475,"q":6.1},{"c":"34","b":"c","v":0.485,"q":6.8},{"c":"34","b":"c","v":0.49,"q":7},{"c":"34","b":"c","v":0.497,"q":6.7},{"c":"34","b":"c","v":0.505,"q":6.1},{"c":"34","b":"c","v":0.515,"q":5.3},{"c":"34","b":"c","v":0.53,"q":4.5},{"c":"34","b":"c","v":0.55,"q":3.8},{"c":"34","b":"c","v":0.57,"q":3.3},{"c":"34","b":"c","v":0.6,"q":2.7},{"c":"34","b":"c","v":0.64,"q":2.1},{"c":"34","b":"c","v":0.7,"q":1.5},{"c":"34","b":"c","v":0.76,"q":1.05},{"c":"34","b":"c","v":0.82,"q":0.75},{"c":"34","b":"c","v":0.88,"q":0.5},{"c":"34","b":"c","v":0.95,"q":0.3},{"c":"34","b":"c","v":1.0,"q":0.2},
{"c":"44","b":"d","v":0.78,"q":-0.05},{"c":"44","b":"d","v":0.65,"q":-0.1},{"c":"44","b":"d","v":0.55,"q":-0.15},{"c":"44","b":"d","v":0.45,"q":-0.23},{"c":"44","b":"d","v":0.4,"q":-0.31},{"c":"44","b":"d","v":0.36,"q":-0.46},{"c":"44","b":"d","v":0.34,"q":-0.68},{"c":"44","b":"d","v":0.327,"q":-1.1},{"c":"44","b":"d","v":0.317,"q":-2},{"c":"44","b":"d","v":0.31,"q":-3.4},{"c":"44","b":"d","v":0.305,"q":-5.3},{"c":"44","b":"d","v":0.3,"q":-7.3},{"c":"44","b":"d","v":0.292,"q":-8.5},{"c":"44","b":"d","v":0.28,"q":-8.9},{"c":"44","b":"d","v":0.268,"q":-9.6},{"c":"44","b":"d","v":0.258,"q":-10.4},{"c":"44","b":"d","v":0.25,"q":-11},{"c":"44","b":"d","v":0.245,"q":-11.6},{"c":"44","b":"d","v":0.24,"q":-11.2},{"c":"44","b":"d","v":0.234,"q":-10.6},{"c":"44","b":"d","v":0.225,"q":-9.1},{"c":"44","b":"d","v":0.212,"q":-7.6},{"c":"44","b":"d","v":0.197,"q":-6.5},{"c":"44","b":"d","v":0.18,"q":-5.8},{"c":"44","b":"d","v":0.16,"q":-5.4},{"c":"44","b":"d","v":0.145,"q":-5.3},{"c":"44","b":"d","v":0.13,"q":-4.9},{"c":"44","b":"d","v":0.118,"q":-4.3},{"c":"44","b":"d","v":0.105,"q":-3.3},{"c":"44","b":"d","v":0.09,"q":-2.2},{"c":"44","b":"d","v":0.076,"q":-1.4},{"c":"44","b":"d","v":0.066,"q":-1.2},{"c":"44","b":"d","v":0.06,"q":-1.8},{"c":"44","b":"d","v":0.058,"q":-5},{"c":"44","b":"d","v":0.057,"q":-11},
{"c":"44","b":"c","v":0.15,"q":0},{"c":"44","b":"c","v":0.2,"q":0.05},{"c":"44","b":"c","v":0.235,"q":0.2},{"c":"44","b":"c","v":0.255,"q":0.5},{"c":"44","b":"c","v":0.27,"q":1},{"c":"44","b":"c","v":0.285,"q":1.7},{"c":"44","b":"c","v":0.3,"q":2.4},{"c":"44","b":"c","v":0.315,"q":3},{"c":"44","b":"c","v":0.33,"q":3.4},{"c":"44","b":"c","v":0.34,"q":3.6},{"c":"44","b":"c","v":0.355,"q":3.7},{"c":"44","b":"c","v":0.37,"q":3.7},{"c":"44","b":"c","v":0.385,"q":3.7},{"c":"44","b":"c","v":0.4,"q":3.8},{"c":"44","b":"c","v":0.42,"q":4.1},{"c":"44","b":"c","v":0.44,"q":4.7},{"c":"44","b":"c","v":0.46,"q":5.4},{"c":"44","b":"c","v":0.475,"q":6.3},{"c":"44","b":"c","v":0.485,"q":7},{"c":"44","b":"c","v":0.49,"q":7.3},{"c":"44","b":"c","v":0.497,"q":6.9},{"c":"44","b":"c","v":0.505,"q":6.2},{"c":"44","b":"c","v":0.515,"q":5.4},{"c":"44","b":"c","v":0.53,"q":4.6},{"c":"44","b":"c","v":0.55,"q":3.9},{"c":"44","b":"c","v":0.57,"q":3.4},{"c":"44","b":"c","v":0.6,"q":2.7},{"c":"44","b":"c","v":0.64,"q":2.1},{"c":"44","b":"c","v":0.7,"q":1.5},{"c":"44","b":"c","v":0.76,"q":1.05},{"c":"44","b":"c","v":0.82,"q":0.75},{"c":"44","b":"c","v":0.88,"q":0.5},{"c":"44","b":"c","v":0.95,"q":0.3},{"c":"44","b":"c","v":1.0,"q":0.2},
{"c":"54","b":"d","v":0.78,"q":-0.05},{"c":"54","b":"d","v":0.65,"q":-0.1},{"c":"54","b":"d","v":0.55,"q":-0.15},{"c":"54","b":"d","v":0.45,"q":-0.22},{"c":"54","b":"d","v":0.4,"q":-0.3},{"c":"54","b":"d","v":0.36,"q":-0.45},{"c":"54","b":"d","v":0.34,"q":-0.66},{"c":"54","b":"d","v":0.328,"q":-1.1},{"c":"54","b":"d","v":0.318,"q":-2},{"c":"54","b":"d","v":0.311,"q":-3.3},{"c":"54","b":"d","v":0.306,"q":-5.2},{"c":"54","b":"d","v":0.301,"q":-7.5},{"c":"54","b":"d","v":0.293,"q":-8.7},{"c":"54","b":"d","v":0.282,"q":-9},{"c":"54","b":"d","v":0.27,"q":-9.8},{"c":"54","b":"d","v":0.26,"q":-10.6},{"c":"54","b":"d","v":0.252,"q":-11.4},{"c":"54","b":"d","v":0.246,"q":-12.5},{"c":"54","b":"d","v":0.24,"q":-11.8},{"c":"54","b":"d","v":0.234,"q":-11.3},{"c":"54","b":"d","v":0.226,"q":-9.5},{"c":"54","b":"d","v":0.213,"q":-7.7},{"c":"54","b":"d","v":0.198,"q":-6.6},{"c":"54","b":"d","v":0.18,"q":-5.8},{"c":"54","b":"d","v":0.16,"q":-5.4},{"c":"54","b":"d","v":0.145,"q":-5.3},{"c":"54","b":"d","v":0.132,"q":-4.9},{"c":"54","b":"d","v":0.12,"q":-4.3},{"c":"54","b":"d","v":0.108,"q":-3.3},{"c":"54","b":"d","v":0.095,"q":-2.2},{"c":"54","b":"d","v":0.082,"q":-1.5},{"c":"54","b":"d","v":0.071,"q":-1.3},{"c":"54","b":"d","v":0.066,"q":-1.9},{"c":"54","b":"d","v":0.064,"q":-5},{"c":"54","b":"d","v":0.063,"q":-10.5},
{"c":"54","b":"c","v":0.15,"q":0},{"c":"54","b":"c","v":0.2,"q":0.05},{"c":"54","b":"c","v":0.24,"q":0.2},{"c":"54","b":"c","v":0.26,"q":0.5},{"c":"54","b":"c","v":0.275,"q":1},{"c":"54","b":"c","v":0.29,"q":1.7},{"c":"54","b":"c","v":0.305,"q":2.4},{"c":"54","b":"c","v":0.32,"q":3},{"c":"54","b":"c","v":0.333,"q":3.4},{"c":"54","b":"c","v":0.343,"q":3.6},{"c":"54","b":"c","v":0.358,"q":3.8},{"c":"54","b":"c","v":0.373,"q":3.8},{"c":"54","b":"c","v":0.388,"q":3.8},{"c":"54","b":"c","v":0.403,"q":3.9},{"c":"54","b":"c","v":0.42,"q":4.2},{"c":"54","b":"c","v":0.44,"q":4.8},{"c":"54","b":"c","v":0.46,"q":5.6},{"c":"54","b":"c","v":0.475,"q":6.5},{"c":"54","b":"c","v":0.485,"q":7.2},{"c":"54","b":"c","v":0.49,"q":7.5},{"c":"54","b":"c","v":0.497,"q":7.1},{"c":"54","b":"c","v":0.505,"q":6.4},{"c":"54","b":"c","v":0.515,"q":5.5},{"c":"54","b":"c","v":0.53,"q":4.7},{"c":"54","b":"c","v":0.55,"q":3.9},{"c":"54","b":"c","v":0.57,"q":3.4},{"c":"54","b":"c","v":0.6,"q":2.75},{"c":"54","b":"c","v":0.64,"q":2.1},{"c":"54","b":"c","v":0.7,"q":1.5},{"c":"54","b":"c","v":0.76,"q":1.05},{"c":"54","b":"c","v":0.82,"q":0.75},{"c":"54","b":"c","v":0.88,"q":0.5},{"c":"54","b":"c","v":0.95,"q":0.3},{"c":"54","b":"c","v":1.0,"q":0.2},
{"c":"64","b":"d","v":0.78,"q":-0.05},{"c":"64","b":"d","v":0.65,"q":-0.1},{"c":"64","b":"d","v":0.55,"q":-0.15},{"c":"64","b":"d","v":0.45,"q":-0.22},{"c":"64","b":"d","v":0.4,"q":-0.3},{"c":"64","b":"d","v":0.36,"q":-0.45},{"c":"64","b":"d","v":0.338,"q":-0.65},{"c":"64","b":"d","v":0.327,"q":-1.1},{"c":"64","b":"d","v":0.319,"q":-1.9},{"c":"64","b":"d","v":0.312,"q":-3.2},{"c":"64","b":"d","v":0.307,"q":-5},{"c":"64","b":"d","v":0.303,"q":-7.5},{"c":"64","b":"d","v":0.296,"q":-9.2},{"c":"64","b":"d","v":0.285,"q":-8.8},{"c":"64","b":"d","v":0.273,"q":-9.5},{"c":"64","b":"d","v":0.262,"q":-10.3},{"c":"64","b":"d","v":0.254,"q":-11.8},{"c":"64","b":"d","v":0.248,"q":-13.3},{"c":"64","b":"d","v":0.243,"q":-12.6},{"c":"64","b":"d","v":0.236,"q":-12.2},{"c":"64","b":"d","v":0.228,"q":-10.3},{"c":"64","b":"d","v":0.215,"q":-8},{"c":"64","b":"d","v":0.2,"q":-6.7},{"c":"64","b":"d","v":0.183,"q":-6},{"c":"64","b":"d","v":0.16,"q":-5.5},{"c":"64","b":"d","v":0.145,"q":-5.3},{"c":"64","b":"d","v":0.132,"q":-5},{"c":"64","b":"d","v":0.12,"q":-4.4},{"c":"64","b":"d","v":0.11,"q":-3.4},{"c":"64","b":"d","v":0.1,"q":-2.3},{"c":"64","b":"d","v":0.088,"q":-1.6},{"c":"64","b":"d","v":0.078,"q":-1.5},{"c":"64","b":"d","v":0.073,"q":-2.2},{"c":"64","b":"d","v":0.071,"q":-5},{"c":"64","b":"d","v":0.07,"q":-10},
{"c":"64","b":"c","v":0.155,"q":0},{"c":"64","b":"c","v":0.2,"q":0.05},{"c":"64","b":"c","v":0.245,"q":0.2},{"c":"64","b":"c","v":0.265,"q":0.5},{"c":"64","b":"c","v":0.28,"q":1},{"c":"64","b":"c","v":0.295,"q":1.7},{"c":"64","b":"c","v":0.31,"q":2.4},{"c":"64","b":"c","v":0.325,"q":3},{"c":"64","b":"c","v":0.338,"q":3.5},{"c":"64","b":"c","v":0.35,"q":3.7},{"c":"64","b":"c","v":0.365,"q":3.8},{"c":"64","b":"c","v":0.38,"q":3.9},{"c":"64","b":"c","v":0.395,"q":3.9},{"c":"64","b":"c","v":0.41,"q":4.1},{"c":"64","b":"c","v":0.425,"q":4.5},{"c":"64","b":"c","v":0.44,"q":5},{"c":"64","b":"c","v":0.455,"q":5.7},{"c":"64","b":"c","v":0.47,"q":6.6},{"c":"64","b":"c","v":0.48,"q":7.2},{"c":"64","b":"c","v":0.486,"q":7.7},{"c":"64","b":"c","v":0.49,"q":7.4},{"c":"64","b":"c","v":0.494,"q":7.9},{"c":"64","b":"c","v":0.5,"q":7.3},{"c":"64","b":"c","v":0.508,"q":6.7},{"c":"64","b":"c","v":0.52,"q":5.6},{"c":"64","b":"c","v":0.532,"q":4.8},{"c":"64","b":"c","v":0.55,"q":4},{"c":"64","b":"c","v":0.565,"q":3.5},{"c":"64","b":"c","v":0.59,"q":2.9},{"c":"64","b":"c","v":0.623,"q":2.4},{"c":"64","b":"c","v":0.66,"q":1.9},{"c":"64","b":"c","v":0.71,"q":1.5},{"c":"64","b":"c","v":0.76,"q":1.1},{"c":"64","b":"c","v":0.82,"q":0.75},{"c":"64","b":"c","v":0.88,"q":0.5},{"c":"64","b":"c","v":0.95,"q":0.3},{"c":"64","b":"c","v":1.0,"q":0.2},
{"c":"74","b":"d","v":0.78,"q":-0.05},{"c":"74","b":"d","v":0.65,"q":-0.1},{"c":"74","b":"d","v":0.55,"q":-0.15},{"c":"74","b":"d","v":0.45,"q":-0.22},{"c":"74","b":"d","v":0.4,"q":-0.3},{"c":"74","b":"d","v":0.36,"q":-0.45},{"c":"74","b":"d","v":0.336,"q":-0.65},{"c":"74","b":"d","v":0.325,"q":-1.1},{"c":"74","b":"d","v":0.318,"q":-1.9},{"c":"74","b":"d","v":0.31,"q":-3.2},{"c":"74","b":"d","v":0.305,"q":-5},{"c":"74","b":"d","v":0.302,"q":-7.5},{"c":"74","b":"d","v":0.295,"q":-9.1},{"c":"74","b":"d","v":0.285,"q":-8.5},{"c":"74","b":"d","v":0.277,"q":-8.3},{"c":"74","b":"d","v":0.268,"q":-9.5},{"c":"74","b":"d","v":0.26,"q":-9.8},{"c":"74","b":"d","v":0.252,"q":-12},{"c":"74","b":"d","v":0.246,"q":-12.8},{"c":"74","b":"d","v":0.242,"q":-14},{"c":"74","b":"d","v":0.238,"q":-12.7},{"c":"74","b":"d","v":0.234,"q":-13},{"c":"74","b":"d","v":0.228,"q":-11},{"c":"74","b":"d","v":0.22,"q":-9.5},{"c":"74","b":"d","v":0.209,"q":-7.6},{"c":"74","b":"d","v":0.195,"q":-6.6},{"c":"74","b":"d","v":0.183,"q":-6.2},{"c":"74","b":"d","v":0.17,"q":-5.7},{"c":"74","b":"d","v":0.158,"q":-5.5},{"c":"74","b":"d","v":0.145,"q":-5.3},{"c":"74","b":"d","v":0.132,"q":-5.2},{"c":"74","b":"d","v":0.12,"q":-4.6},{"c":"74","b":"d","v":0.115,"q":-4},{"c":"74","b":"d","v":0.105,"q":-2.8},{"c":"74","b":"d","v":0.099,"q":-2.1},{"c":"74","b":"d","v":0.092,"q":-1.8},{"c":"74","b":"d","v":0.086,"q":-1.6},{"c":"74","b":"d","v":0.081,"q":-1.9},{"c":"74","b":"d","v":0.078,"q":-2.8},{"c":"74","b":"d","v":0.077,"q":-6},{"c":"74","b":"d","v":0.076,"q":-11.2},
{"c":"74","b":"c","v":0.18,"q":0},{"c":"74","b":"c","v":0.22,"q":0.05},{"c":"74","b":"c","v":0.25,"q":0.2},{"c":"74","b":"c","v":0.27,"q":0.5},{"c":"74","b":"c","v":0.285,"q":1},{"c":"74","b":"c","v":0.3,"q":1.7},{"c":"74","b":"c","v":0.318,"q":2.4},{"c":"74","b":"c","v":0.33,"q":3},{"c":"74","b":"c","v":0.343,"q":3.6},{"c":"74","b":"c","v":0.355,"q":3.8},{"c":"74","b":"c","v":0.37,"q":3.85},{"c":"74","b":"c","v":0.385,"q":4},{"c":"74","b":"c","v":0.4,"q":4.1},{"c":"74","b":"c","v":0.415,"q":4.4},{"c":"74","b":"c","v":0.43,"q":4.8},{"c":"74","b":"c","v":0.445,"q":5.5},{"c":"74","b":"c","v":0.46,"q":6.2},{"c":"74","b":"c","v":0.47,"q":6.8},{"c":"74","b":"c","v":0.477,"q":7.3},{"c":"74","b":"c","v":0.482,"q":7},{"c":"74","b":"c","v":0.486,"q":7.7},{"c":"74","b":"c","v":0.489,"q":7.9},{"c":"74","b":"c","v":0.493,"q":7.4},{"c":"74","b":"c","v":0.497,"q":7.6},{"c":"74","b":"c","v":0.506,"q":7},{"c":"74","b":"c","v":0.52,"q":5.6},{"c":"74","b":"c","v":0.532,"q":4.8},{"c":"74","b":"c","v":0.55,"q":4},{"c":"74","b":"c","v":0.565,"q":3.5},{"c":"74","b":"c","v":0.59,"q":2.9},{"c":"74","b":"c","v":0.623,"q":2.4},{"c":"74","b":"c","v":0.66,"q":1.9},{"c":"74","b":"c","v":0.71,"q":1.5},{"c":"74","b":"c","v":0.75,"q":1.2},{"c":"74","b":"c","v":0.794,"q":0.9},{"c":"74","b":"c","v":0.84,"q":0.7},{"c":"74","b":"c","v":0.878,"q":0.5},{"c":"74","b":"c","v":0.92,"q":0.35},{"c":"74","b":"c","v":1.0,"q":0.2}
]},
"vconcat":[
{"width":473,"height":346,
 "layer":[
  {"layer":[
   {"data":{"name":"A"},"mark":{"type":"line","strokeWidth":1.6},
    "encoding":{
     "x":{"field":"v","type":"quantitative","scale":{"domain":[-0.1,1.1],"nice":false,"zero":false},
          "axis":{"title":"Voltage (V)","titleFontSize":24,"titlePadding":19,"values":[0,0.2,0.4,0.6,0.8,1.0],"format":".1f"}},
     "y":{"field":"q","type":"quantitative","scale":{"domain":[-40,30],"nice":false,"zero":false},
          "axis":{"title":"dQ/dV (mAh/V)","titleFontSize":27,"titlePadding":20,"values":[-40,-35,-30,-25,-20,-15,-10,-5,0,5,10,15,20,25,30],"labelExpr":"datum.value % 10 == 0 ? '' + datum.value : ''"}},
     "color":{"field":"c","type":"nominal","scale":{"domain":["4","14","24","34","44","54","64","74","75"],"range":["#ff0000","#ff8000","#ffff00","#80ff00","#00ffff","#0080ff","#0000ff","#660099","#c0c0c0"]},"legend":null},
     "detail":{"field":"b"},
     "order":{"value":null}}},
   {"data":{"name":"T"},"mark":{"type":"rule","color":"#000","strokeWidth":1.5},"encoding":{"x":{"field":"t","type":"quantitative"},"y":{"datum":-40,"type":"quantitative"},"y2":{"datum":-41.4}}},
   {"data":{"values":[{}]},"mark":{"type":"text","text":"a) Si only","align":"left","baseline":"middle","font":"Open Sans","fontSize":17,"color":"#44546a"},"encoding":{"x":{"datum":-0.564,"type":"quantitative"},"y":{"datum":0,"type":"quantitative"}}},
   {"data":{"values":[{}]},"mark":{"type":"text","text":"a-Li₂Si ⟹  a-Si","align":"left","baseline":"middle","font":"Open Sans","fontSize":18,"color":"#000"},"encoding":{"x":{"datum":0.349,"type":"quantitative"},"y":{"datum":38.3,"type":"quantitative"}}},
   {"data":{"values":[{}]},"mark":{"type":"text","text":"a-Li₃.₅Si ⟹  a-Li₂Si","align":"left","baseline":"middle","font":"Open Sans","fontSize":18,"color":"#000"},"encoding":{"x":{"datum":0.0395,"type":"quantitative"},"y":{"datum":25.1,"type":"quantitative"}}},
   {"data":{"values":[{}]},"mark":{"type":"text","text":"a-Li₂Si ⟹  a-Li₃.₅Si","align":"left","baseline":"middle","font":"Open Sans","fontSize":18,"color":"#000"},"encoding":{"x":{"datum":0.532,"type":"quantitative"},"y":{"datum":-14.1,"type":"quantitative"}}},
   {"data":{"values":[{}]},"mark":{"type":"text","text":"a-Si ⟹  a-Li₂Si","align":"left","baseline":"middle","font":"Open Sans","fontSize":18,"color":"#000"},"encoding":{"x":{"datum":0.532,"type":"quantitative"},"y":{"datum":-31.1,"type":"quantitative"}}},
   {"data":{"values":[{}]},"mark":{"type":"text","text":"Cycle No.","align":"center","baseline":"middle","font":"Open Sans","fontSize":18,"color":"#44546a"},"encoding":{"x":{"datum":1.0238,"type":"quantitative"},"y":{"datum":25.15,"type":"quantitative"}}},
   {"data":{"values":[{}]},"mark":{"type":"rule","color":"#222","strokeWidth":1},"encoding":{"x":{"datum":0.2653,"type":"quantitative"},"y":{"datum":20.7,"type":"quantitative"},"x2":{"datum":0.3287},"y2":{"datum":14.63}}},
   {"data":{"values":[{}]},"mark":{"type":"rule","color":"#222","strokeWidth":1},"encoding":{"x":{"datum":0.519,"type":"quantitative"},"y":{"datum":33.85,"type":"quantitative"},"x2":{"datum":0.506},"y2":{"datum":24.95}}},
   {"data":{"values":[{}]},"mark":{"type":"rule","color":"#222","strokeWidth":1},"encoding":{"x":{"datum":0.166,"type":"quantitative"},"y":{"datum":-14.12,"type":"quantitative"},"x2":{"datum":0.509},"y2":{"datum":-14.12}}},
   {"data":{"values":[{}]},"mark":{"type":"rule","color":"#222","strokeWidth":1},"encoding":{"x":{"datum":0.255,"type":"quantitative"},"y":{"datum":-28.36,"type":"quantitative"},"x2":{"datum":0.509},"y2":{"datum":-31.4}}},
   {"data":{"values":[{}]},"mark":{"type":"point","shape":"triangle-right","filled":true,"color":"#000","opacity":1,"size":90,"angle":50},"encoding":{"x":{"datum":0.319,"type":"quantitative"},"y":{"datum":15.56,"type":"quantitative"}}},
   {"data":{"values":[{}]},"mark":{"type":"point","shape":"triangle-right","filled":true,"color":"#000","opacity":1,"size":90,"angle":96.5},"encoding":{"x":{"datum":0.508,"type":"quantitative"},"y":{"datum":26.16,"type":"quantitative"}}},
   {"data":{"values":[{}]},"mark":{"type":"point","shape":"triangle-right","filled":true,"color":"#000","opacity":1,"size":80,"angle":0},"encoding":{"x":{"datum":0.4936,"type":"quantitative"},"y":{"datum":-14.12,"type":"quantitative"}}},
   {"data":{"values":[{}]},"mark":{"type":"point","shape":"triangle-right","filled":true,"color":"#000","opacity":1,"size":80,"angle":8.5},"encoding":{"x":{"datum":0.4938,"type":"quantitative"},"y":{"datum":-31.1,"type":"quantitative"}}}
  ]},
  {"data":{"name":"L"},"layer":[
   {"mark":{"type":"rect"},"encoding":{"x":{"datum":0.945,"type":"quantitative"},"x2":{"datum":1.029},"y":{"field":"r","type":"quantitative","scale":{"domain":[-5.28,12.46],"nice":false,"zero":false},"axis":null},"y2":{"field":"r2"},
     "color":{"field":"c","type":"nominal","scale":{"domain":["4","14","24","34","44","54","64","74","75"],"range":["#ff0000","#ff8000","#ffff00","#80ff00","#00ffff","#0080ff","#0000ff","#660099","#c0c0c0"]},"legend":null}}},
   {"data":{"values":[{}]},"mark":{"type":"rect","fillOpacity":0,"stroke":"#000","strokeWidth":1.5},"encoding":{"x":{"datum":0.945,"type":"quantitative"},"x2":{"datum":1.029},"y":{"datum":0,"type":"quantitative","scale":{"domain":[-5.28,12.46],"nice":false,"zero":false},"axis":null},"y2":{"datum":10}}},
   {"transform":[{"filter":"datum.r > 0"}],"mark":{"type":"rule","color":"#000","strokeWidth":1.5},"encoding":{"x":{"datum":1.029,"type":"quantitative"},"x2":{"datum":1.043},"y":{"field":"r","type":"quantitative","scale":{"domain":[-5.28,12.46],"nice":false,"zero":false},"axis":null}}},
   {"transform":[{"filter":"datum.r > 0"}],"mark":{"type":"text","align":"left","baseline":"middle","font":"Liberation Sans","fontSize":14,"color":"#333"},"encoding":{"x":{"datum":1.0647,"type":"quantitative"},"y":{"field":"r","type":"quantitative","scale":{"domain":[-5.28,12.46],"nice":false,"zero":false},"axis":null},"text":{"field":"l"}}}
  ]}
 ],
 "resolve":{"scale":{"y":"independent"}}
},
{"width":473,"height":348,
 "layer":[
  {"layer":[
   {"data":{"name":"B"},"mark":{"type":"line","strokeWidth":1.6},
    "encoding":{
     "x":{"field":"v","type":"quantitative","scale":{"domain":[-0.1,1.1],"nice":false,"zero":false},
          "axis":{"title":"Voltage (V)","titleFontSize":24,"titlePadding":19,"values":[0,0.2,0.4,0.6,0.8,1.0],"format":".1f"}},
     "y":{"field":"q","type":"quantitative","scale":{"domain":[-15,10],"nice":false,"zero":false},
          "axis":{"title":"dQ/dV (mAh/V)","titleFontSize":27,"titlePadding":20,"values":[-15,-12.5,-10,-7.5,-5,-2.5,0,2.5,5,7.5,10],"labelExpr":"datum.value % 5 == 0 ? '' + datum.value : ''"}},
     "color":{"field":"c","type":"nominal","scale":{"domain":["4","14","24","34","44","54","64","74","75"],"range":["#ff0000","#ff8000","#ffff00","#80ff00","#00ffff","#0080ff","#0000ff","#660099","#c0c0c0"]},"legend":null},
     "detail":{"field":"b"},
     "order":{"value":null}}},
   {"data":{"name":"T"},"mark":{"type":"rule","color":"#000","strokeWidth":1.5},"encoding":{"x":{"field":"t","type":"quantitative"},"y":{"datum":-15,"type":"quantitative"},"y2":{"datum":-15.5}}},
   {"data":{"values":[{}]},"mark":{"type":"text","text":"b) Si-FLG","align":"left","baseline":"middle","font":"Open Sans","fontSize":17,"color":"#44546a"},"encoding":{"x":{"datum":-0.564,"type":"quantitative"},"y":{"datum":0,"type":"quantitative"}}},
   {"data":{"values":[{}]},"mark":{"type":"text","text":"Cycle No.","align":"center","baseline":"middle","font":"Open Sans","fontSize":18,"color":"#44546a"},"encoding":{"x":{"datum":1.0137,"type":"quantitative"},"y":{"datum":8.55,"type":"quantitative"}}}
  ]},
  {"data":{"name":"L"},"layer":[
   {"mark":{"type":"rect"},"encoding":{"x":{"datum":0.917,"type":"quantitative"},"x2":{"datum":1.0035},"y":{"field":"r","type":"quantitative","scale":{"domain":[-5.9,11.95],"nice":false,"zero":false},"axis":null},"y2":{"field":"r2"},
     "color":{"field":"c","type":"nominal","scale":{"domain":["4","14","24","34","44","54","64","74","75"],"range":["#ff0000","#ff8000","#ffff00","#80ff00","#00ffff","#0080ff","#0000ff","#660099","#c0c0c0"]},"legend":null}}},
   {"data":{"values":[{}]},"mark":{"type":"rect","fillOpacity":0,"stroke":"#000","strokeWidth":1.5},"encoding":{"x":{"datum":0.917,"type":"quantitative"},"x2":{"datum":1.0035},"y":{"datum":0,"type":"quantitative","scale":{"domain":[-5.9,11.95],"nice":false,"zero":false},"axis":null},"y2":{"datum":10}}},
   {"transform":[{"filter":"datum.r > 0"}],"mark":{"type":"rule","color":"#000","strokeWidth":1.5},"encoding":{"x":{"datum":1.0035,"type":"quantitative"},"x2":{"datum":1.017},"y":{"field":"r","type":"quantitative","scale":{"domain":[-5.9,11.95],"nice":false,"zero":false},"axis":null}}},
   {"transform":[{"filter":"datum.r > 0"}],"mark":{"type":"text","align":"left","baseline":"middle","font":"Liberation Sans","fontSize":14,"color":"#333"},"encoding":{"x":{"datum":1.0213,"type":"quantitative"},"y":{"field":"r","type":"quantitative","scale":{"domain":[-5.9,11.95],"nice":false,"zero":false},"axis":null},"text":{"field":"l"}}}
  ]}
 ],
 "resolve":{"scale":{"y":"independent"}}
}
]
}
